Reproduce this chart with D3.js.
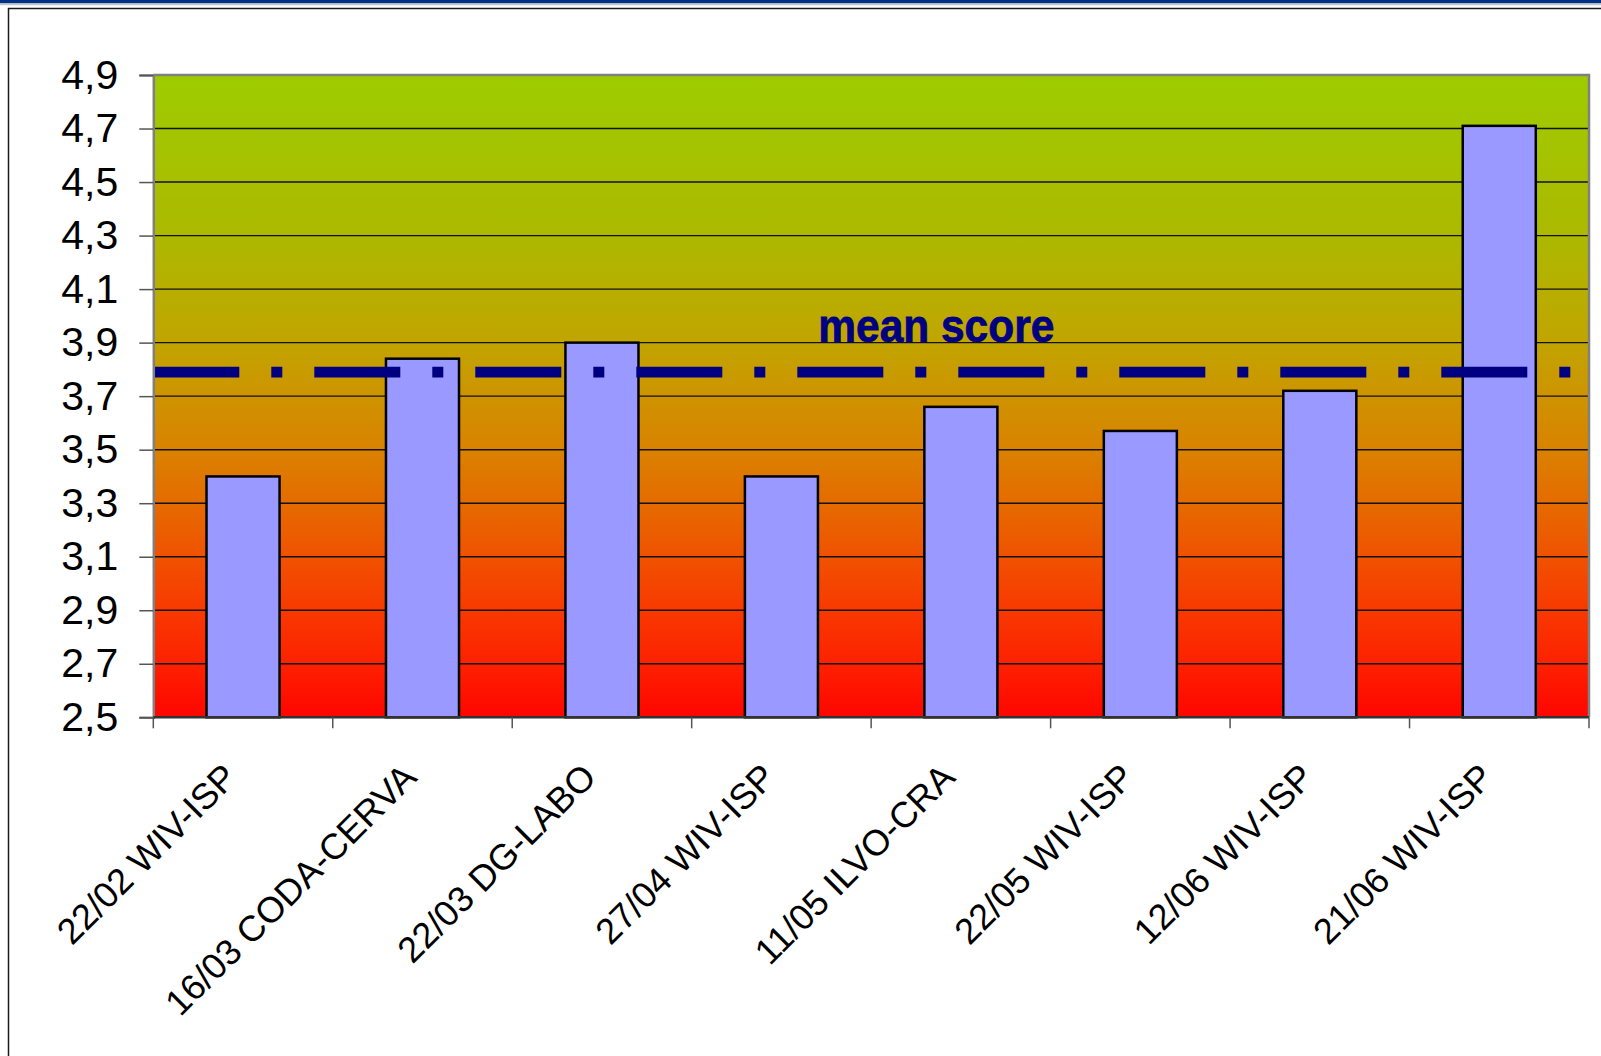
<!DOCTYPE html>
<html>
<head>
<meta charset="utf-8">
<script src="https://cdn.jsdelivr.net/npm/d3@7"></script>
<style>
  body { margin: 0; background: #fff; }
  svg { display: block; }
  text { font-family: "Liberation Sans", Arial, sans-serif; }
</style>
</head>
<body>
<div id="chart"></div>
<script>
// data
var categories = ["22/02 WIV-ISP", "16/03 CODA-CERVA", "22/03 DG-LABO", "27/04 WIV-ISP",
                  "11/05 ILVO-CRA", "22/05 WIV-ISP", "12/06 WIV-ISP", "21/06 WIV-ISP"];
var scores = [3.40, 3.84, 3.90, 3.40, 3.66, 3.57, 3.72, 4.71];
var meanScore = 3.79;
var yTicks = [2.5, 2.7, 2.9, 3.1, 3.3, 3.5, 3.7, 3.9, 4.1, 4.3, 4.5, 4.7, 4.9];

var svgWidth = 1601;
var svgHeight = 1056;

var margin = { top: 75, right: 12, bottom: 338.7, left: 153.3 };
var width = svgWidth - margin.left - margin.right;
var height = svgHeight - margin.top - margin.bottom;

var svg = d3.select("#chart")
  .append("svg")
  .attr("width", svgWidth)
  .attr("height", svgHeight);

// slide header band + frame
svg.append("rect").attr("x", 0).attr("y", 0).attr("width", svgWidth).attr("height", 3.4).attr("fill", "#003087");
svg.append("rect").attr("x", 0).attr("y", 3.4).attr("width", svgWidth).attr("height", 1.8).attr("fill", "#c4c4c4");
svg.append("rect")
  .attr("x", 8.5).attr("y", 8.5)
  .attr("width", svgWidth + 40).attr("height", svgHeight + 40)
  .attr("fill", "none").attr("stroke", "#1a1a1a").attr("stroke-width", 1.5);

// background gradient green -> red
var grad = svg.append("defs").append("linearGradient")
  .attr("id", "bg").attr("x1", 0).attr("y1", 0).attr("x2", 0).attr("y2", 1);
[[0, "#9ecc00"], [0.25, "#acb900"], [0.42, "#c2a400"], [0.58, "#d98300"],
 [0.67, "#e66a00"], [0.75, "#f05200"], [0.83, "#f83a00"], [0.92, "#fd2000"], [1, "#ff0500"]]
  .forEach(function(s) {
    grad.append("stop").attr("offset", s[0]).attr("stop-color", s[1]);
  });

var chartGroup = svg.append("g")
  .attr("transform", `translate(${margin.left}, ${margin.top})`);

chartGroup.append("rect")
  .attr("width", width).attr("height", height)
  .attr("fill", "url(#bg)");

// scales
var x = d3.scaleBand().domain(categories).range([0, width]).padding(0);
var xBar = d3.scaleBand().domain(categories).range([0, width])
  .paddingInner(0.593).paddingOuter(0.2965);
var y = d3.scaleLinear().domain([2.5, 4.9]).range([height, 0]);

// gridlines
chartGroup.selectAll(".grid")
  .data(yTicks.slice(1, -1))
  .enter()
  .append("line")
  .attr("x1", 0).attr("x2", width)
  .attr("y1", d => y(d)).attr("y2", d => y(d))
  .attr("stroke", "#111").attr("stroke-width", 1.4);

// top + right border
chartGroup.append("path")
  .attr("d", `M0,${y(4.9)}H${width}V${height}`)
  .attr("fill", "none").attr("stroke", "#808080").attr("stroke-width", 2.5);

// bars
chartGroup.selectAll(".bar")
  .data(scores)
  .enter()
  .append("rect")
  .attr("x", (d, i) => xBar(categories[i]))
  .attr("y", d => y(d))
  .attr("width", xBar.bandwidth())
  .attr("height", d => height - y(d))
  .attr("fill", "#9999ff")
  .attr("stroke", "#000")
  .attr("stroke-width", 2.5);

// mean score line
chartGroup.append("line")
  .attr("x1", 0).attr("x2", width)
  .attr("y1", y(meanScore)).attr("y2", y(meanScore))
  .attr("stroke", "#000080")
  .attr("stroke-width", 10.7)
  .attr("stroke-dasharray", "86 32 11 32");

chartGroup.append("text")
  .attr("x", 665)
  .attr("y", y(3.9) - 1)
  .attr("fill", "#000080")
  .attr("font-weight", "bold")
  .attr("font-size", 46)
  .attr("stroke", "#000080")
  .attr("stroke-width", 0.8)
  .attr("textLength", 236)
  .attr("lengthAdjust", "spacingAndGlyphs")
  .text("mean score");

// y axis
var leftAxis = d3.axisLeft(y)
  .tickValues(yTicks)
  .tickSize(14)
  .tickPadding(21)
  .tickFormat(d => d3.format(".1f")(d).replace(".", ","));

var yAxisG = chartGroup.append("g").call(leftAxis);
yAxisG.select(".domain").attr("stroke", "#808080").attr("stroke-width", 2.5);
yAxisG.selectAll(".tick line").attr("stroke", "#555").attr("stroke-width", 1.5);
yAxisG.selectAll(".tick text")
  .attr("font-size", 41)
  .attr("fill", "#000")
  .attr("font-family", "Liberation Sans, Arial, sans-serif");

// x axis line
chartGroup.append("line")
  .attr("x1", 0).attr("x2", width)
  .attr("y1", height).attr("y2", height)
  .attr("stroke", "#333").attr("stroke-width", 2.5);

// x ticks at category boundaries
var bounds = categories.map(c => x(c)).concat([width]);
chartGroup.selectAll(".xtick")
  .data(bounds)
  .enter()
  .append("line")
  .attr("x1", d => d).attr("x2", d => d)
  .attr("y1", height).attr("y2", height + 11)
  .attr("stroke", "#555").attr("stroke-width", 1.5);

// rotated category labels
chartGroup.selectAll(".xlabel")
  .data(categories)
  .enter()
  .append("text")
  .attr("text-anchor", "end")
  .attr("font-size", 36)
  .attr("fill", "#000")
  .attr("transform", d => `translate(${x(d) + x.bandwidth() / 2 - 4}, ${height + 62}) rotate(-45)`)
  .text(d => d);
</script>
</body>
</html>
